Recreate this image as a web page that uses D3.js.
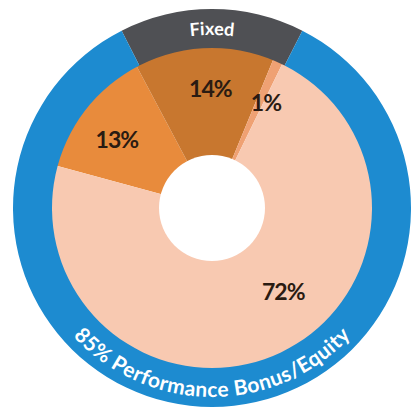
<!DOCTYPE html>
<html>
<head>
<meta charset="utf-8">
<script src="https://cdn.jsdelivr.net/npm/d3@7/dist/d3.min.js"></script>
<style>
  html, body { margin: 0; padding: 0; background: #fff; }
  svg { display: block; }
  .pct { font-family: Lato, "DejaVu Sans", sans-serif; font-weight: 700; fill: #2a1b12; letter-spacing: -1px; }
  .ring-label { font-family: Lato, "DejaVu Sans", sans-serif; font-weight: 700; fill: #fff; }
</style>
</head>
<body>
<div class="chart"></div>
<script>
// pay mix split
const sliceLabels = ["13%", "14%", "1%", "72%"];
const sliceValues = [13, 14, 1, 72];
const sliceColors = ["#e88b3c", "#c8772f", "#efa173", "#f8c9b1"];

// outer ring: fixed vs at-risk
const ringLabels = ["Fixed", "85% Performance Bonus/Equity"];
const ringValues = [15, 85];
const ringColors = ["#4f5054", "#1d8bd0"];

const width = 411, height = 412;
const cx = 212, cy = 208;
const rPie = 161, rRingIn = 160, rRingOut = 199, rHole = 53;
const deg = Math.PI / 180;

const svg = d3.select(".chart").append("svg")
    .attr("width", width)
    .attr("height", height);

const g = svg.append("g")
    .attr("transform", "translate(" + cx + "," + cy + ")");

// inner pie, 14% slice sits just left of top
const pie = d3.pie().sort(null)
    .startAngle(-74.8 * deg)
    .endAngle(-74.8 * deg + 2 * Math.PI);

const slices = pie(sliceValues);
const arc = d3.arc().innerRadius(0).outerRadius(rPie);

g.selectAll(".slice")
  .data(slices)
  .enter()
  .append("path")
    .attr("class", "slice")
    .attr("d", arc)
    .attr("fill", (d, i) => sliceColors[i]);

// outer ring, Fixed centered on top
const ringPie = d3.pie().sort(null)
    .startAngle(-27 * deg)
    .endAngle(-27 * deg + 2 * Math.PI);

const ringArc = d3.arc().innerRadius(rRingIn).outerRadius(rRingOut);

g.selectAll(".ring")
  .data(ringPie(ringValues))
  .enter()
  .append("path")
    .attr("class", "ring")
    .attr("d", ringArc)
    .attr("fill", (d, i) => ringColors[i]);

// hole
g.append("circle")
    .attr("r", rHole)
    .attr("fill", "#fff");

// percent labels (angle shift, radius) tweaks to sit like the original
const labelTweak = {
  "13%": { a: -3, r: 117 },
  "14%": { a: 2, r: 119 },
  "1%": { a: 3, r: 118 },
  "72%": { a: -16, r: 110 }
};

g.selectAll(".pct")
  .data(slices)
  .enter()
  .append("text")
    .attr("class", "pct")
    .attr("text-anchor", "middle")
    .attr("dy", "0.36em")
    .style("font-size", "23px")
    .attr("transform", (d, i) => {
      const t = labelTweak[sliceLabels[i]];
      const la = d3.arc().innerRadius(t.r).outerRadius(t.r);
      const p = la.centroid({ startAngle: d.startAngle + t.a * deg, endAngle: d.endAngle + t.a * deg });
      return "translate(" + p[0] + "," + p[1] + ")";
    })
    .text((d, i) => sliceLabels[i]);

// curved ring text paths (angles clockwise from top)
function arcPath(r, a0, a1, ccw) {
  const p = d3.path();
  p.arc(cx, cy, r, a0 - Math.PI / 2, a1 - Math.PI / 2, ccw);
  return p.toString();
}

const defs = svg.append("defs");
defs.append("path").attr("id", "topPath")
    .attr("d", arcPath(173, -40 * deg, 40 * deg, false));
defs.append("path").attr("id", "bottomPath")
    .attr("d", arcPath(189, 228 * deg, 132 * deg, true));

svg.append("text")
    .attr("class", "ring-label")
    .style("font-size", "18px")
  .append("textPath")
    .attr("href", "#topPath")
    .attr("startOffset", "50%")
    .attr("text-anchor", "middle")
    .text(ringLabels[0]);

svg.append("text")
    .attr("class", "ring-label")
    .style("font-size", "21px")
  .append("textPath")
    .attr("href", "#bottomPath")
    .attr("startOffset", "50%")
    .attr("text-anchor", "middle")
    .attr("textLength", 312)
    .attr("lengthAdjust", "spacing")
    .text(ringLabels[1]);
</script>
</body>
</html>
